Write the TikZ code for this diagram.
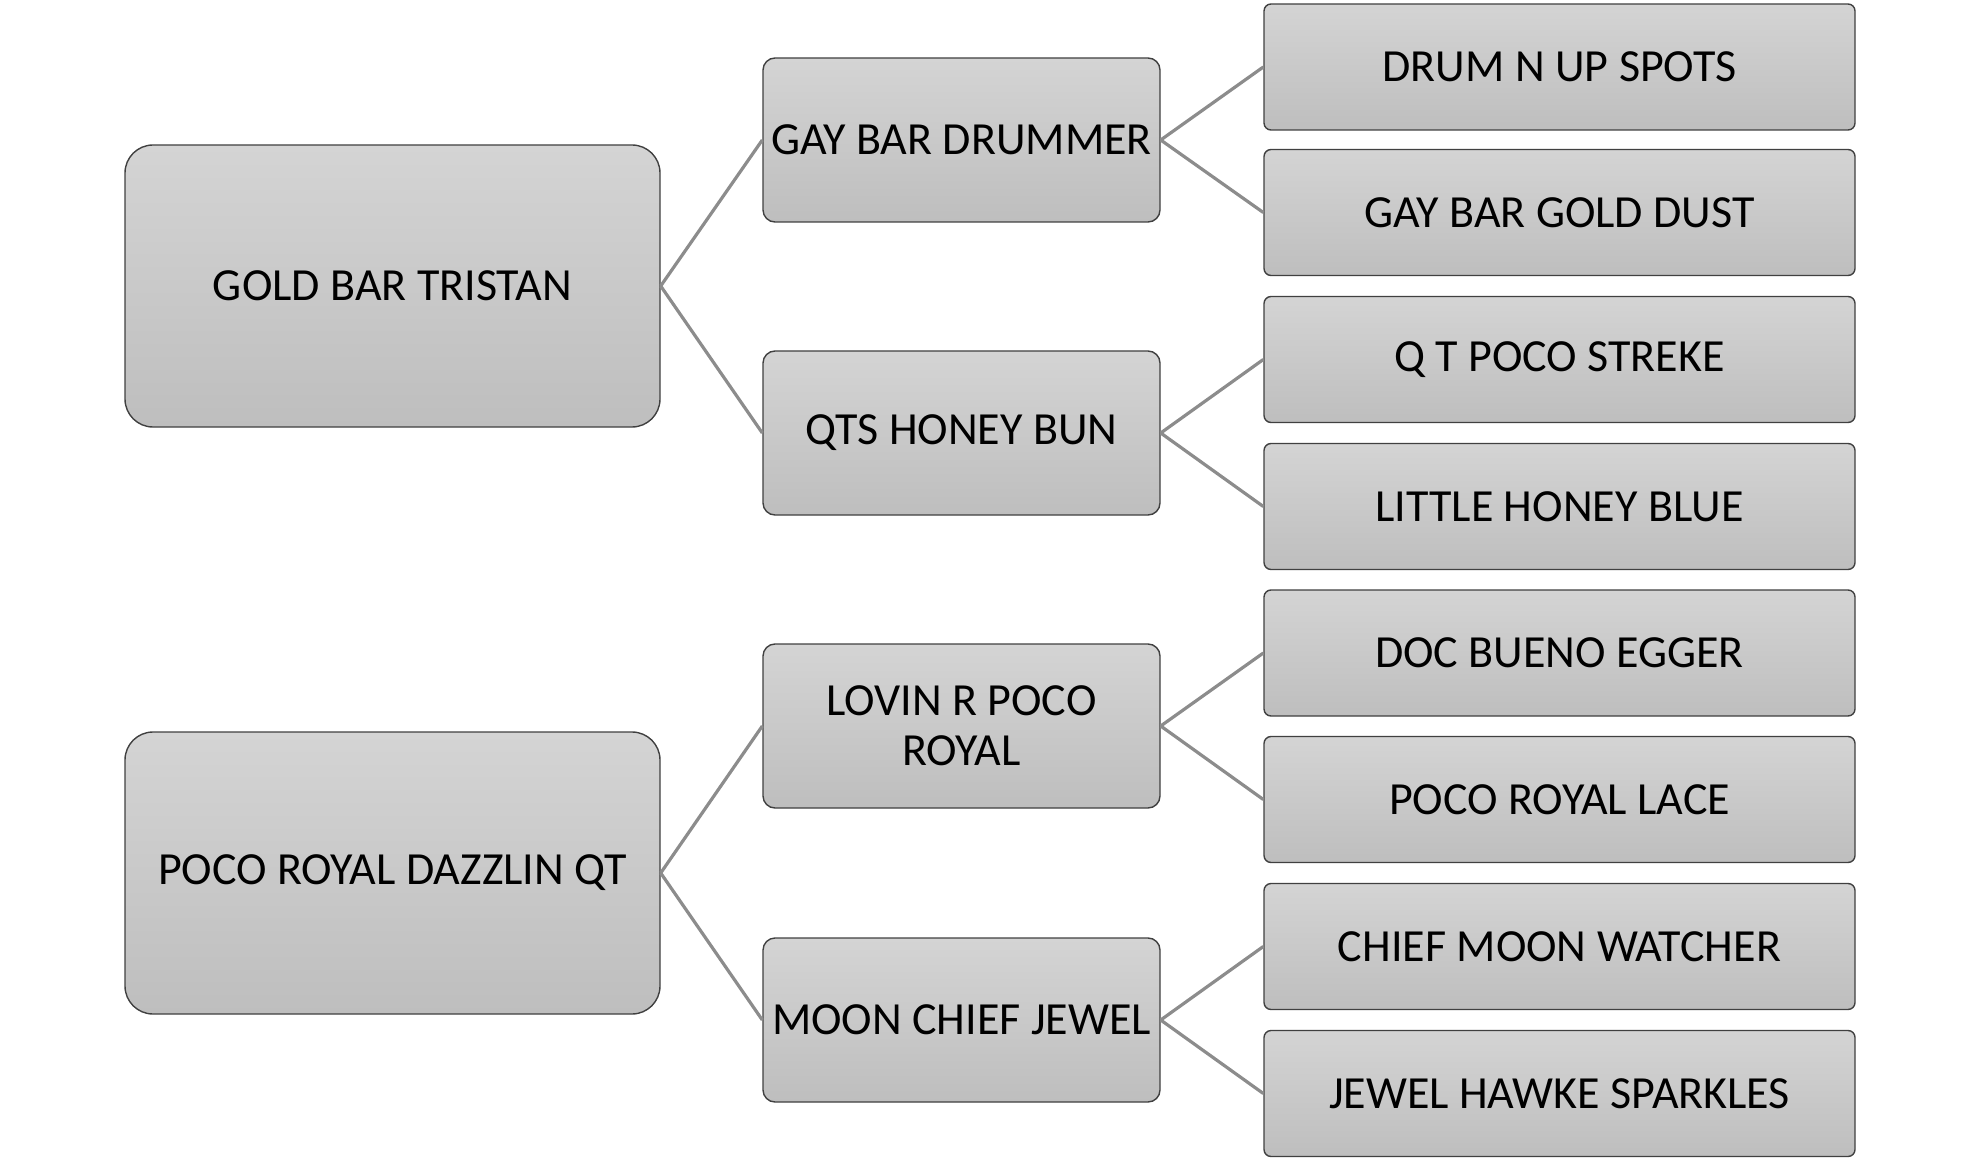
\documentclass[tikz,border=0pt]{standalone}
\usepackage{fontspec}
\setmainfont{Carlito}
\usetikzlibrary{positioning}
\definecolor{boxtop}{RGB}{212, 212, 212}
\definecolor{boxbottom}{RGB}{190, 190, 190}
\definecolor{boxborder}{RGB}{64, 64, 64}
\definecolor{linkgray}{RGB}{140, 140, 140}
\tikzset{
  box/.style={draw=boxborder, line width=0.7pt, top color=boxtop, bottom color=boxbottom, align=center, inner sep=0pt, font=\fontsize{23}{25}\selectfont},
  rootbox/.style={box, minimum width=267.5pt, minimum height=141pt, rounded corners=14pt},
  midbox/.style={box, minimum width=198.5pt, minimum height=82pt, rounded corners=6pt},
  leafbox/.style={box, minimum width=295.5pt, minimum height=63pt, rounded corners=3.5pt},
  link/.style={draw=linkgray, line width=1.6pt}
}
\begin{document}
\begin{tikzpicture}[x=0.5pt, y=-0.5pt]
  \useasboundingbox (0,0) rectangle (1980,1160);
  % first family
  \node[rootbox] (r1) at (392.5,286) {GOLD BAR TRISTAN};
  \node[midbox] (m1) at (961.5,140) {GAY BAR DRUMMER};
  \node[midbox] (m2) at (961.5,433) {QTS HONEY BUN};
  \node[leafbox] (l1) at (1559.5,67) {DRUM N UP SPOTS};
  \node[leafbox] (l2) at (1559.5,212.5) {GAY BAR GOLD DUST};
  \node[leafbox] (l3) at (1559.5,359.5) {Q T POCO STREKE};
  \node[leafbox] (l4) at (1559.5,506.5) {LITTLE HONEY BLUE};
  % second family
  \node[rootbox] (r2) at (392.5,873) {POCO ROYAL DAZZLIN QT};
  \node[midbox] (m3) at (961.5,726) {LOVIN R POCO\\ROYAL};
  \node[midbox] (m4) at (961.5,1020) {MOON CHIEF JEWEL};
  \node[leafbox] (l5) at (1559.5,653) {DOC BUENO EGGER};
  \node[leafbox] (l6) at (1559.5,799.5) {POCO ROYAL LACE};
  \node[leafbox] (l7) at (1559.5,946.5) {CHIEF MOON WATCHER};
  \node[leafbox] (l8) at (1559.5,1093.5) {JEWEL HAWKE SPARKLES};
  % links
  \draw[link] (r1.east) -- (m1.west);
  \draw[link] (r1.east) -- (m2.west);
  \draw[link] (m1.east) -- (l1.west);
  \draw[link] (m1.east) -- (l2.west);
  \draw[link] (m2.east) -- (l3.west);
  \draw[link] (m2.east) -- (l4.west);
  \draw[link] (r2.east) -- (m3.west);
  \draw[link] (r2.east) -- (m4.west);
  \draw[link] (m3.east) -- (l5.west);
  \draw[link] (m3.east) -- (l6.west);
  \draw[link] (m4.east) -- (l7.west);
  \draw[link] (m4.east) -- (l8.west);
\end{tikzpicture}
\end{document}
